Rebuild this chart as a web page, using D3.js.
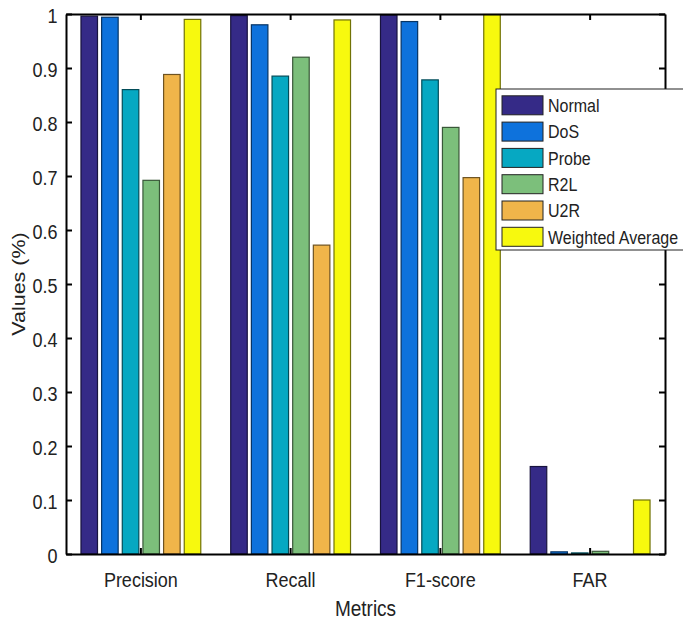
<!DOCTYPE html>
<html>
<head>
<meta charset="utf-8">
<script src="https://cdn.jsdelivr.net/npm/d3@7"></script>
<style>
	body { margin: 0; background: #fff; }
	svg text { font-family: "Liberation Sans", Arial, sans-serif; fill: #222; }
</style>
</head>
<body>
<div id="chart"></div>
<script>

// metrics on the x axis
var metrics = ['Precision', 'Recall', 'F1-score', 'FAR'];

// one entry per class, values in metrics order
var classes = ['Normal', 'DoS', 'Probe', 'R2L', 'U2R', 'Weighted Average'];
var normalValues   = [0.996, 0.997, 0.998, 0.162];
var dosValues      = [0.994, 0.980, 0.986, 0.004];
var probeValues    = [0.860, 0.885, 0.878, 0.002];
var r2lValues      = [0.692, 0.920, 0.790, 0.005];
var u2rValues      = [0.888, 0.572, 0.697, 0.000];
var weightedValues = [0.990, 0.989, 0.999, 0.100];

var yTicks = [0, 0.1, 0.2, 0.3, 0.4, 0.5, 0.6, 0.7, 0.8, 0.9, 1];
var colors = ['#352a87', '#0e72dc', '#06a8c2', '#7cbf7b', '#f0b54a', '#f7f90e'];

var series = [normalValues, dosValues, probeValues, r2lValues, u2rValues, weightedValues];

var width = 683, height = 622;
var margin = {top: 14, left: 66, right: 18, bottom: 68};
var plotW = width - margin.left - margin.right;
var plotH = height - margin.top - margin.bottom;

// the reference text is a bit taller than wide
var stretch = 1.16;

var svg = d3.select('#chart').append('svg')
		.attr('width', width)
		.attr('height', height);

var g = svg.append('g').attr('transform', 'translate(' + margin.left + ',' + margin.top + ')');

// group scale: MATLAB style, groups spaced evenly, 0.8 of slot used by bars
var x = d3.scaleBand().domain(metrics).range([0, plotW]).padding(0);
var x1 = d3.scaleBand().domain(classes).range([0, x.bandwidth() * 0.8]).paddingInner(0.2);
var y = d3.scaleLinear().domain([0, 1]).range([plotH, 0]);

// bars
series.forEach(function(vals, si) {
	g.selectAll('.bar' + si).data(vals).enter().append('rect')
			.attr('class', 'bar' + si)
			.attr('x', function(d, i) { return x(metrics[i]) + x.bandwidth() * 0.1 + x1(classes[si]); })
			.attr('y', function(d) { return y(d); })
			.attr('width', x1.bandwidth())
			.attr('height', function(d) { return plotH - y(d); })
			.style('fill', colors[si])
			.style('stroke', d3.rgb(colors[si]).darker(2.2))
			.style('stroke-width', 1.2)
			.style('display', function(d) { return d > 0 ? null : 'none'; });
});

// axes: left / bottom with labels, top / right mirror ticks, all inward
var yAxis = d3.axisLeft(y).tickValues(yTicks).tickSizeInner(-6).tickSizeOuter(0).tickPadding(8.5)
		.tickFormat(function(d) { return d === 0 || d === 1 ? d3.format('d')(d) : d3.format('.1f')(d); });
var xAxis = d3.axisBottom(x).tickSizeInner(-6).tickSizeOuter(0);

var ya = g.append('g').call(yAxis);
var xa = g.append('g').attr('transform', 'translate(0,' + plotH + ')').call(xAxis);
var yr = g.append('g').attr('transform', 'translate(' + plotW + ',0)')
		.call(d3.axisRight(y).tickValues(yTicks).tickSizeInner(-6).tickSizeOuter(0).tickFormat(''));
var xt = g.append('g').call(d3.axisTop(x).tickSizeInner(-6).tickSizeOuter(0).tickFormat(''));

[ya, xa, yr, xt].forEach(function(a) {
	a.select('.domain').style('stroke', '#000').style('stroke-width', 2);
	a.selectAll('.tick line').style('stroke', '#000').style('stroke-width', 2);
	a.selectAll('.tick text').style('font-size', '18px').style('fill', '#222');
});

ya.selectAll('.tick text')
		.attr('dy', '0.4em')
		.attr('transform', 'scale(1,' + stretch + ')');

xa.selectAll('.tick text')
		.attr('y', 0)
		.attr('dy', '0.71em')
		.attr('transform', 'translate(0,18) scale(1,' + stretch + ')');

// axis titles
svg.append('text')
		.attr('transform', 'translate(' + (margin.left + plotW / 2) + ',615.5) scale(1,' + stretch + ')')
		.attr('text-anchor', 'middle')
		.style('font-size', '19px')
		.text('Metrics');

svg.append('text')
		.attr('transform', 'translate(25,' + (margin.top + plotH / 2) + ') rotate(-90) scale(' + stretch + ',1)')
		.attr('text-anchor', 'middle')
		.style('font-size', '18.5px')
		.text('Values (%)');

// legend
var legend = svg.append('g').attr('transform', 'translate(496,89)');
legend.append('rect')
		.attr('width', 200)
		.attr('height', 161)
		.style('fill', '#fff')
		.style('stroke', '#222')
		.style('stroke-width', 1);

classes.forEach(function(c, i) {
	var row = legend.append('g').attr('transform', 'translate(0,' + (16.3 + i * 26.3) + ')');
	row.append('rect')
			.attr('x', 6)
			.attr('y', -9.5)
			.attr('width', 41)
			.attr('height', 19)
			.style('fill', colors[i])
			.style('stroke', '#222')
			.style('stroke-width', 1);
	row.append('text')
			.attr('transform', 'translate(52,6.8) scale(1,' + stretch + ')')
			.style('font-size', '16px')
			.text(c);
});

</script>
</body>
</html>
